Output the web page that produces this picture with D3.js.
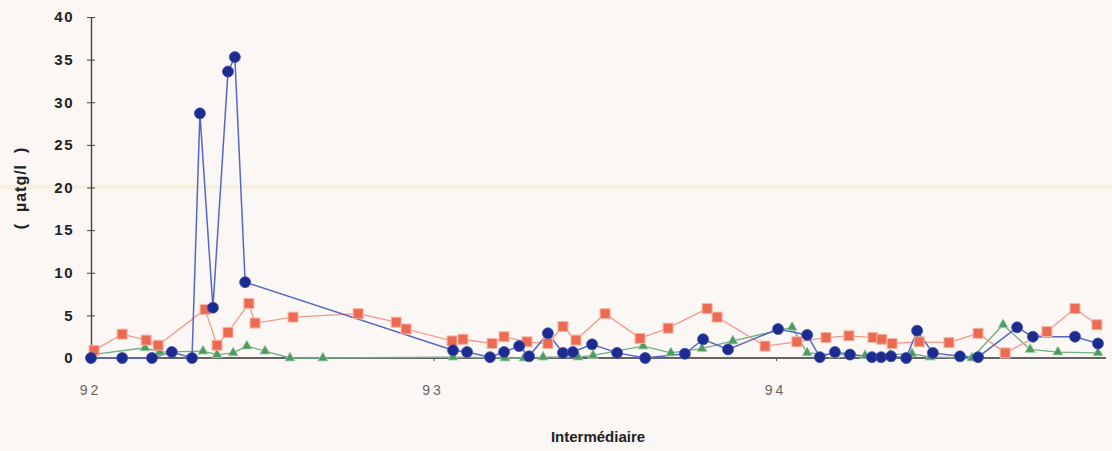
<!DOCTYPE html>
<html>
<head>
    <meta charset="utf-8">
    <title>Intermédiaire</title>
    <style>
        body { margin: 0; background: #fbf7f5; }
        svg { display: block; background-color: #fbf7f5; }
        .tick text { font-family: "Liberation Sans", Arial, sans-serif; }
    </style>
</head>
<body>
<script src="https://d3js.org/d3.v7.min.js"></script>
<script>
    // values (x = decimal year, y = µatg/l)
    const xTicks = [92, 93, 94];
    const yTicks = [0, 5, 10, 15, 20, 25, 30, 35, 40];

    const blueX = [92.00, 92.091, 92.178, 92.236, 92.295, 92.318, 92.356, 92.400, 92.420, 92.450,
        93.057, 93.098, 93.165, 93.206, 93.250, 93.279, 93.334, 93.378, 93.407, 93.463,
        93.536, 93.618, 93.734, 93.787, 93.860, 94.006, 94.091, 94.128, 94.172, 94.216,
        94.280, 94.307, 94.336, 94.380, 94.412, 94.458, 94.537, 94.590, 94.704, 94.750,
        94.873, 94.940];
    const blueY = [0, 0, 0, 0.7, 0, 28.7, 5.9, 33.6, 35.3, 8.9,
        0.9, 0.7, 0.1, 0.7, 1.4, 0.2, 2.9, 0.6, 0.7, 1.6,
        0.6, 0, 0.5, 2.2, 1.0, 3.4, 2.7, 0.1, 0.7, 0.4,
        0.1, 0.1, 0.2, 0, 3.2, 0.6, 0.2, 0.1, 3.6, 2.5,
        2.5, 1.7];

    const redX = [92.009, 92.091, 92.161, 92.196, 92.333, 92.368, 92.400, 92.461, 92.479, 92.590,
        92.780, 92.891, 92.920, 93.054, 93.086, 93.171, 93.206, 93.273, 93.334, 93.378,
        93.416, 93.501, 93.603, 93.685, 93.799, 93.828, 93.968, 94.061, 94.146, 94.213,
        94.283, 94.309, 94.339, 94.418, 94.505, 94.590, 94.669, 94.791, 94.873, 94.937];
    const redY = [0.9, 2.8, 2.1, 1.5, 5.7, 1.5, 3.0, 6.4, 4.1, 4.8,
        5.2, 4.2, 3.4, 2.0, 2.2, 1.7, 2.5, 1.9, 1.7, 3.7,
        2.1, 5.2, 2.3, 3.5, 5.8, 4.8, 1.4, 1.9, 2.4, 2.6,
        2.4, 2.2, 1.7, 1.9, 1.8, 2.9, 0.6, 3.1, 5.8, 3.9];

    const greenX = [92.003, 92.158, 92.201, 92.327, 92.368, 92.415, 92.455, 92.508, 92.581, 92.677,
        93.057, 93.209, 93.264, 93.320, 93.422, 93.466, 93.612, 93.693, 93.784, 93.874,
        94.047, 94.091, 94.172, 94.260, 94.333, 94.397, 94.450, 94.572, 94.663, 94.742,
        94.823, 94.940];
    const greenY = [0.4, 1.2, 0.7, 0.8, 0.4, 0.6, 1.4, 0.8, 0, 0,
        0.1, 0, 0, 0.1, 0.1, 0.3, 1.4, 0.6, 1.1, 2.0,
        3.6, 0.6, 0.4, 0.3, 0.4, 0.5, 0.1, 0, 3.9, 1.0,
        0.7, 0.6];

    const width = 1112;
    const height = 451;

    const svg = d3.select("body")
        .append("svg")
        .attr("width", width)
        .attr("height", height);

    const x = d3.scaleLinear().domain([92, 95]).range([91, 1118.5]);
    const y = d3.scaleLinear().domain([0, 40]).range([358, 17]);

    // faint scan streak across the page
    svg.append("rect")
        .attr("x", 0).attr("y", 185).attr("width", width).attr("height", 4)
        .attr("fill", "#f8ead0").attr("opacity", 0.6);

    // y axis
    const yAxis = svg.append("g")
        .attr("transform", `translate(${x(92)},0)`)
        .call(d3.axisLeft(y).tickValues(yTicks).tickSizeInner(5).tickSizeOuter(0).tickPadding(12));
    yAxis.select(".domain").attr("stroke", "#444").attr("stroke-width", 1.4);
    yAxis.selectAll(".tick line").attr("x2", 4).attr("x1", -4).attr("stroke", "#444");
    yAxis.selectAll(".tick text")
        .attr("font-size", 15).attr("font-weight", "bold").attr("fill", "#222")
        .attr("letter-spacing", "1.5px");

    // x axis
    const xAxis = svg.append("g")
        .attr("transform", `translate(0,${y(0)})`)
        .call(d3.axisBottom(x).tickValues(xTicks).tickFormat(d3.format("d"))
            .tickSizeInner(3).tickSizeOuter(0).tickPadding(24));
    xAxis.select(".domain").attr("stroke", "#333").attr("stroke-width", 1.4)
        .attr("d", `M${x(92)},0H1106`);
    xAxis.selectAll(".tick line").attr("stroke", "#555");
    xAxis.selectAll(".tick text")
        .attr("font-size", 14).attr("fill", "#666").attr("letter-spacing", "3px")
        .attr("dx", -1);

    // axis titles
    svg.append("text")
        .attr("transform", "translate(26,188) rotate(-90)")
        .attr("text-anchor", "middle")
        .attr("font-family", "Liberation Sans, Arial, sans-serif")
        .attr("font-weight", "bold").attr("font-size", 16).attr("fill", "#222")
        .attr("letter-spacing", "1px")
        .attr("xml:space", "preserve")
        .text("(  µatg/l  )");

    svg.append("text")
        .attr("x", 598).attr("y", 442)
        .attr("text-anchor", "middle")
        .attr("font-family", "Liberation Sans, Arial, sans-serif")
        .attr("font-weight", "bold").attr("font-size", 15).attr("fill", "#222")
        .text("Intermédiaire");

    const line = d3.line().x(d => x(d[0])).y(d => y(d[1]));

    const red = d3.zip(redX, redY);
    const green = d3.zip(greenX, greenY);
    const blue = d3.zip(blueX, blueY);

    // lines
    svg.append("path").datum(green)
        .attr("fill", "none").attr("stroke", "#6fae80").attr("stroke-width", 1.3)
        .attr("d", line);
    svg.append("path").datum(red)
        .attr("fill", "none").attr("stroke", "#f19a88").attr("stroke-width", 1.3)
        .attr("d", line);
    svg.append("path").datum(blue)
        .attr("fill", "none").attr("stroke", "#5866c4").attr("stroke-width", 1.5)
        .attr("d", line);

    // markers
    svg.append("g").selectAll("path")
        .data(green).join("path")
        .attr("transform", d => `translate(${x(d[0])},${y(d[1])})`)
        .attr("d", d3.symbol(d3.symbolTriangle, 45))
        .attr("fill", "#4f9a62").attr("stroke", "#a8d4b2").attr("stroke-width", 0.8);

    svg.append("g").selectAll("rect")
        .data(red).join("rect")
        .attr("x", d => x(d[0]) - 5).attr("y", d => y(d[1]) - 5)
        .attr("width", 10).attr("height", 10)
        .attr("fill", "#ec6a52").attr("stroke", "#f6b8a6").attr("stroke-width", 1);

    svg.append("g").selectAll("circle")
        .data(blue).join("circle")
        .attr("cx", d => x(d[0])).attr("cy", d => y(d[1]))
        .attr("r", 5.5)
        .attr("fill", "#1d2b8e").attr("stroke", "#3e4fb0").attr("stroke-width", 0.8);
</script>
</body>
</html>
